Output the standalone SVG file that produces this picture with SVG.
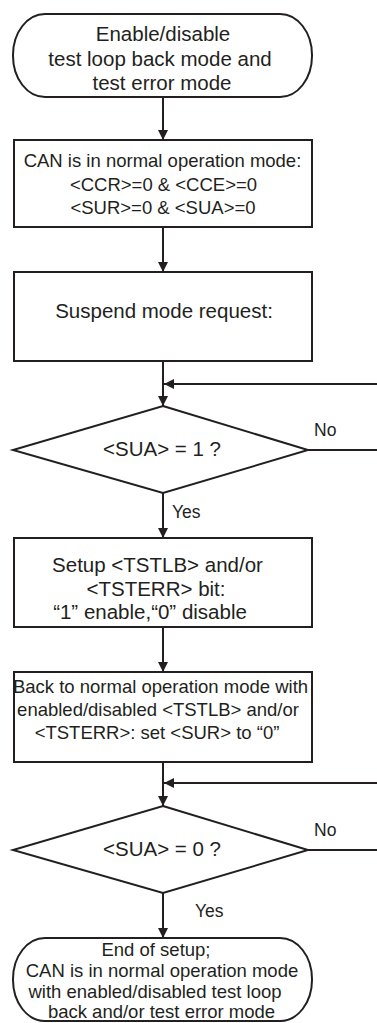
<svg xmlns="http://www.w3.org/2000/svg" width="377" height="1023" viewBox="0 0 377 1023">
<style>
.s{fill:#fff;stroke:#231f20;stroke-width:2}
.t{font-family:"Liberation Sans",Arial,sans-serif;fill:#231f20;text-anchor:middle}
.b{font-size:20.5px}
.m{font-size:18.5px}
.l{font-size:17.5px;text-anchor:start}
.c{fill:none;stroke:#231f20;stroke-width:2}
</style>
<defs>
<marker id="ah" markerUnits="userSpaceOnUse" markerWidth="10" markerHeight="10" refX="10" refY="5" orient="auto">
<path d="M0,0 L10,5 L0,10 z" fill="#231f20"/>
</marker>
</defs>
<g id="connectors">
<line class="c" x1="163" y1="97" x2="163" y2="140" marker-end="url(#ah)"/>
<line class="c" x1="163" y1="227" x2="163" y2="272" marker-end="url(#ah)"/>
<line class="c" x1="163" y1="361" x2="163" y2="406" marker-end="url(#ah)"/>
<line class="c" x1="377" y1="384" x2="164" y2="384" marker-end="url(#ah)"/>
<line class="c" x1="308" y1="450" x2="377" y2="450"/>
<line class="c" x1="163" y1="493" x2="163" y2="538" marker-end="url(#ah)"/>
<line class="c" x1="163" y1="627" x2="163" y2="672" marker-end="url(#ah)"/>
<line class="c" x1="163" y1="762" x2="163" y2="806" marker-end="url(#ah)"/>
<line class="c" x1="377" y1="783" x2="164" y2="783" marker-end="url(#ah)"/>
<line class="c" x1="308" y1="850" x2="377" y2="850"/>
<line class="c" x1="163" y1="893" x2="163" y2="938" marker-end="url(#ah)"/>
<text class="t l" x="314" y="436">No</text>
<text class="t l" x="172" y="518">Yes</text>
<text class="t l" x="314" y="836">No</text>
<text class="t l" x="195" y="917">Yes</text>
</g>
<g id="start">
<rect class="s" x="13" y="14" width="299" height="83" rx="32" ry="41"/>
<text class="t b" x="163" y="41">Enable/disable</text>
<text class="t b" x="160" y="65.5">test loop back mode and</text>
<text class="t b" x="162" y="90">test error mode</text>
</g>
<g id="normal">
<rect class="s" x="14" y="140" width="298" height="87"/>
<text class="t m" x="162.5" y="167">CAN is in normal operation mode:</text>
<text class="t m" x="163.5" y="191">&lt;CCR&gt;=0 &amp; &lt;CCE&gt;=0</text>
<text class="t m" x="163" y="214">&lt;SUR&gt;=0 &amp; &lt;SUA&gt;=0</text>
</g>
<g id="suspend">
<rect class="s" x="14" y="272" width="298" height="89"/>
<text class="t b" x="164" y="318">Suspend mode request:</text>
</g>
<g id="check1">
<polygon class="s" points="163,406 308,450 163,493 13,450"/>
<text class="t b" x="162" y="456">&lt;SUA&gt; = 1 ?</text>
</g>
<g id="setup">
<rect class="s" x="14" y="538" width="298" height="89"/>
<text class="t b" x="157.5" y="572">Setup &lt;TSTLB&gt; and/or</text>
<text class="t b" x="156" y="596">&lt;TSTERR&gt; bit:</text>
<text class="t b" x="150" y="619">“1” enable,“0” disable</text>
</g>
<g id="back">
<rect class="s" x="14" y="672" width="298" height="90"/>
<text class="t m" x="160.5" y="693">Back to normal operation mode with</text>
<text class="t m" x="158" y="716">enabled/disabled &lt;TSTLB&gt; and/or</text>
<text class="t m" x="157" y="739">&lt;TSTERR&gt;: set &lt;SUR&gt; to “0”</text>
</g>
<g id="check2">
<polygon class="s" points="163,806 308,850 163,893 13,850"/>
<text class="t b" x="162" y="856">&lt;SUA&gt; = 0 ?</text>
</g>
<g id="end">
<rect class="s" x="13" y="938" width="299" height="83" rx="32" ry="41"/>
<text class="t m" x="156" y="956">End of setup;</text>
<text class="t m" x="162" y="977">CAN is in normal operation mode</text>
<text class="t m" x="155" y="998">with enabled/disabled test loop</text>
<text class="t m" x="161.5" y="1018">back and/or test error mode</text>
</g>
</svg>
